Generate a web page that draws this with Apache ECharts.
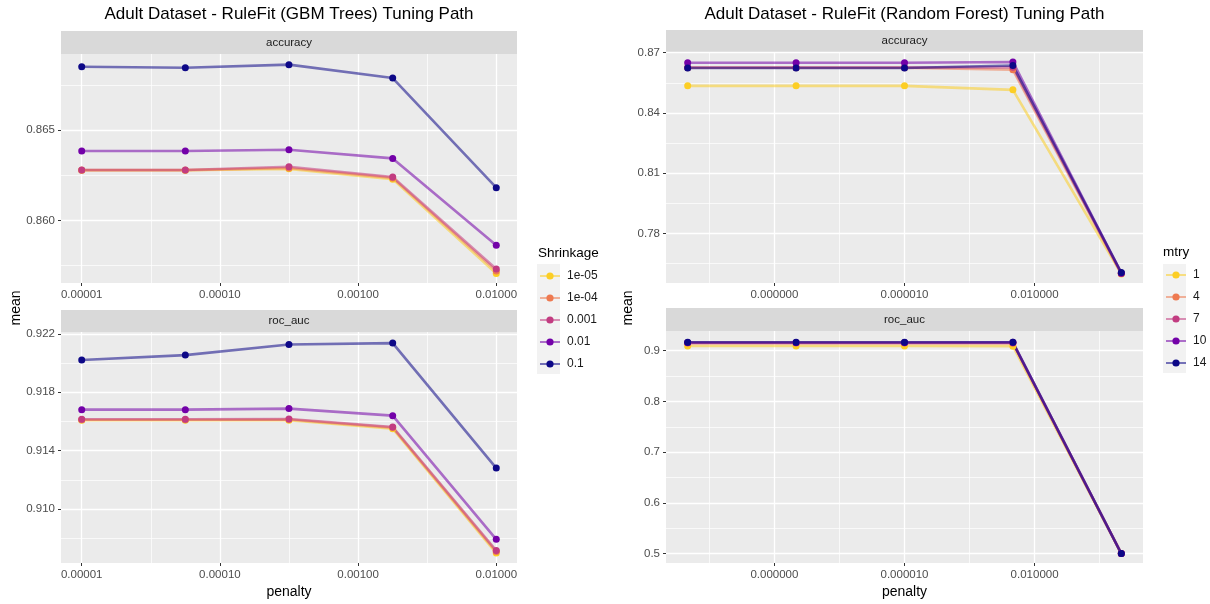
<!DOCTYPE html>
<html><head><meta charset="utf-8">
<script src="https://cdn.jsdelivr.net/npm/echarts@6/dist/echarts.min.js"></script>
<style>html,body{margin:0;padding:0;background:#fff}#c{width:1210px;height:604px}</style>
</head><body><div id="c"></div>
<script>
// ---------- data ----------
const shrinkage = ['1e-05', '1e-04', '0.001', '0.01', '0.1'];
const mtry = ['1', '4', '7', '10', '14'];
const gbmPenalty = [1e-5, 5.62e-5, 3.16e-4, 1.78e-3, 1e-2];
const rfPenalty = [1e-10, 3.16e-8, 1e-5, 3.16e-3, 1];

const gbmAcc_1e05 = [0.86277, 0.86277, 0.86285, 0.86228, 0.85705];
const gbmAcc_1e04 = [0.86278, 0.86278, 0.86290, 0.86235, 0.85720];
const gbmAcc_0001 = [0.86279, 0.86279, 0.86297, 0.86240, 0.85730];
const gbmAcc_001 = [0.86384, 0.86384, 0.86391, 0.86343, 0.85862];
const gbmAcc_01 = [0.86850, 0.86845, 0.86862, 0.86788, 0.86181];

const gbmRoc_1e05 = [0.91608, 0.91608, 0.91608, 0.91550, 0.90700];
const gbmRoc_1e04 = [0.91612, 0.91612, 0.91614, 0.91558, 0.90710];
const gbmRoc_0001 = [0.91615, 0.91615, 0.91617, 0.91562, 0.90717];
const gbmRoc_001 = [0.91681, 0.91681, 0.91688, 0.91640, 0.90794];
const gbmRoc_01 = [0.92020, 0.92054, 0.92127, 0.92136, 0.91281];

const rfAcc_1 = [0.8535, 0.8535, 0.8535, 0.8515, 0.7598];
const rfAcc_4 = [0.8625, 0.8625, 0.8625, 0.8615, 0.7600];
const rfAcc_7 = [0.8626, 0.8626, 0.8626, 0.8628, 0.7601];
const rfAcc_10 = [0.8650, 0.8650, 0.8650, 0.8654, 0.7602];
const rfAcc_14 = [0.8624, 0.8624, 0.8624, 0.8636, 0.7605];

const rfRoc_1 = [0.9093, 0.9093, 0.9093, 0.9090, 0.5000];
const rfRoc_4 = [0.9150, 0.9150, 0.9150, 0.9148, 0.5000];
const rfRoc_7 = [0.9155, 0.9155, 0.9155, 0.9155, 0.5000];
const rfRoc_10 = [0.9163, 0.9163, 0.9163, 0.9165, 0.5000];
const rfRoc_14 = [0.9166, 0.9166, 0.9166, 0.9166, 0.5000];

// ticks
const gbmXTicks = [1e-5, 1e-4, 1e-3, 1e-2];
const gbmXLabels = ['0.00001', '0.00010', '0.00100', '0.01000'];
const gbmXMinor = [-4.5, -3.5, -2.5];
const rfXTicks = [1e-8, 1e-5, 1e-2];
const rfXLabels = ['0.000000', '0.000010', '0.010000'];
const rfXMinor = [-9.5, -6.5, -3.5, -0.5];
const gbmAccYTicks = [0.860, 0.865];
const gbmAccYLabels = ['0.860', '0.865'];
const gbmAccYMinor = [0.8575, 0.8625, 0.8675];
const gbmRocYTicks = [0.910, 0.914, 0.918, 0.922];
const gbmRocYLabels = ['0.910', '0.914', '0.918', '0.922'];
const gbmRocYMinor = [0.908, 0.912, 0.916, 0.920];
const rfAccYTicks = [0.78, 0.81, 0.84, 0.87];
const rfAccYLabels = ['0.78', '0.81', '0.84', '0.87'];
const rfAccYMinor = [0.765, 0.795, 0.825, 0.855];
const rfRocYTicks = [0.5, 0.6, 0.7, 0.8, 0.9];
const rfRocYLabels = ['0.5', '0.6', '0.7', '0.8', '0.9'];
const rfRocYMinor = [0.55, 0.65, 0.75, 0.85];

const colors = ['#FCCE25', '#EE7A51', '#C23C81', '#7301A8', '#0D0887'];
const FONT = "'Liberation Sans', Arial, sans-serif";

// ---------- helpers ----------
const lg = Math.log10;
function lookup(ticks, labels) {
  return function (v) {
    for (let i = 0; i < ticks.length; i++) if (Math.abs(ticks[i] - v) < 1e-9) return labels[i];
    return '';
  };
}
const gridCfg = [
  { left: 61, top: 54, width: 456, height: 229 },
  { left: 61, top: 332, width: 456, height: 231 },
  { left: 666, top: 52, width: 477, height: 231 },
  { left: 666, top: 331, width: 477, height: 232 }
];
const xRanges = [[-5.15, -1.85], [-5.15, -1.85], [-10.5, 0.5], [-10.5, 0.5]];
const yRanges = [[0.85653, 0.86921], [0.90632, 0.92212], [0.7553, 0.87035], [0.4815, 0.9389]];
const xTickSets = [gbmXTicks, gbmXTicks, rfXTicks, rfXTicks];
const xLabelSets = [gbmXLabels, gbmXLabels, rfXLabels, rfXLabels];
const xMinorSets = [gbmXMinor, gbmXMinor, rfXMinor, rfXMinor];
const yTickSets = [gbmAccYTicks, gbmRocYTicks, rfAccYTicks, rfRocYTicks];
const yLabelSets = [gbmAccYLabels, gbmRocYLabels, rfAccYLabels, rfRocYLabels];
const yMinorSets = [gbmAccYMinor, gbmRocYMinor, rfAccYMinor, rfRocYMinor];

const grids = [], xAxes = [], yAxes = [];
const tickLabel = { color: '#4D4D4D', fontSize: 11.5, fontFamily: FONT };
const noLine = { show: false, onZero: false };
for (let g = 0; g < 4; g++) {
  grids.push(Object.assign({ show: true, backgroundColor: '#EBEBEB', borderWidth: 0, containLabel: false }, gridCfg[g]));
  const xmaj = xTickSets[g].map(lg);
  const xlabs = xLabelSets[g];
  xAxes.push({
    type: 'value', gridIndex: g, min: xRanges[g][0], max: xRanges[g][1], position: 'bottom',
    axisLine: noLine, axisLabel: { show: false, customValues: xMinorSets[g] },
    axisTick: { show: false, customValues: xMinorSets[g] },
    splitLine: { show: true, lineStyle: { color: '#FFFFFF', width: 0.7 } }
  });
  xAxes.push({
    type: 'value', gridIndex: g, min: xRanges[g][0], max: xRanges[g][1], position: 'bottom',
    axisLine: noLine,
    axisTick: { show: true, length: 3, lineStyle: { color: '#333333', width: 1 }, customValues: xmaj },
    axisLabel: Object.assign({ customValues: xmaj, margin: 6, formatter: function (v) {
      for (let i = 0; i < xmaj.length; i++) if (Math.abs(xmaj[i] - v) < 1e-9) return xlabs[i];
      return '';
    } }, tickLabel),
    splitLine: { show: true, lineStyle: { color: '#FFFFFF', width: 1.3 } }
  });
  yAxes.push({
    type: 'value', gridIndex: g, min: yRanges[g][0], max: yRanges[g][1], position: 'left',
    axisLine: noLine, axisLabel: { show: false, customValues: yMinorSets[g] },
    axisTick: { show: false, customValues: yMinorSets[g] },
    splitLine: { show: true, lineStyle: { color: '#FFFFFF', width: 0.7 } }
  });
  yAxes.push({
    type: 'value', gridIndex: g, min: yRanges[g][0], max: yRanges[g][1], position: 'left',
    axisLine: noLine,
    axisTick: { show: true, length: 3, lineStyle: { color: '#333333', width: 1 }, customValues: yTickSets[g] },
    axisLabel: Object.assign({ customValues: yTickSets[g], margin: 6, formatter: lookup(yTickSets[g], yLabelSets[g]) }, tickLabel),
    splitLine: { show: true, lineStyle: { color: '#FFFFFF', width: 1.3 } }
  });
}

const panelSeries = [
  { g: 0, names: shrinkage, x: gbmPenalty, ys: [gbmAcc_1e05, gbmAcc_1e04, gbmAcc_0001, gbmAcc_001, gbmAcc_01] },
  { g: 1, names: shrinkage, x: gbmPenalty, ys: [gbmRoc_1e05, gbmRoc_1e04, gbmRoc_0001, gbmRoc_001, gbmRoc_01] },
  { g: 2, names: mtry, x: rfPenalty, ys: [rfAcc_1, rfAcc_4, rfAcc_7, rfAcc_10, rfAcc_14] },
  { g: 3, names: mtry, x: rfPenalty, ys: [rfRoc_1, rfRoc_4, rfRoc_7, rfRoc_10, rfRoc_14] }
];
const series = [];
panelSeries.forEach(function (p) {
  p.ys.forEach(function (ys, i) {
    series.push({
      type: 'line', name: p.names[i], xAxisIndex: 2 * p.g + 1, yAxisIndex: 2 * p.g + 1,
      data: ys.map(function (v, k) { return [lg(p.x[k]), v]; }),
      symbol: 'circle', symbolSize: 7, showSymbol: true, animation: false,
      lineStyle: { color: colors[i], width: 2.6, opacity: 0.55 },
      itemStyle: { color: colors[i], opacity: 1 },
      emphasis: { disabled: true }, silent: true
    });
  });
});

function strip(x, y, w, h, label) {
  return [
    { type: 'rect', shape: { x: x, y: y, width: w, height: h }, style: { fill: '#D9D9D9' }, silent: true },
    { type: 'text', x: x + w / 2, y: y + h / 2, style: { text: label, fill: '#1A1A1A', font: '11.5px ' + FONT, align: 'center', verticalAlign: 'middle', textAlign: 'center', textVerticalAlign: 'middle' }, silent: true }
  ];
}
function txt(x, y, s, size, extra) {
  return Object.assign({ type: 'text', x: x, y: y, silent: true,
    style: { text: s, fill: '#000000', font: size + 'px ' + FONT, align: 'center', verticalAlign: 'middle', textAlign: 'center', textVerticalAlign: 'middle' } }, extra || {});
}
const graphics = [].concat(
  strip(61, 31, 456, 23, 'accuracy'),
  strip(61, 310, 456, 22, 'roc_auc'),
  strip(666, 30, 477, 22, 'accuracy'),
  strip(666, 308, 477, 23, 'roc_auc'),
  [
    txt(289, 14, 'Adult Dataset - RuleFit (GBM Trees) Tuning Path', 17),
    txt(904.5, 14, 'Adult Dataset - RuleFit (Random Forest) Tuning Path', 17),
    txt(289, 592, 'penalty', 14),
    txt(904.5, 592, 'penalty', 14),
    txt(16, 308, 'mean', 14, { rotation: Math.PI / 2 }),
    txt(628, 308, 'mean', 14, { rotation: Math.PI / 2 }),
    { type: 'rect', shape: { x: 537, y: 264, width: 23, height: 110 }, style: { fill: '#F2F2F2' }, silent: true, z: -1 },
    { type: 'rect', shape: { x: 1163, y: 264, width: 23, height: 109 }, style: { fill: '#F2F2F2' }, silent: true, z: -1 },
    { type: 'text', x: 538, y: 253, silent: true, style: { text: 'Shrinkage', fill: '#000', font: '13.5px ' + FONT, align: 'left', verticalAlign: 'middle', textAlign: 'left', textVerticalAlign: 'middle' } },
    { type: 'text', x: 1163, y: 252, silent: true, style: { text: 'mtry', fill: '#000', font: '13.5px ' + FONT, align: 'left', verticalAlign: 'middle', textAlign: 'left', textVerticalAlign: 'middle' } }
  ]
);

const legendCommon = {
  orient: 'vertical', itemWidth: 20, itemHeight: 9, itemGap: 8, padding: 0,
  selectedMode: false,
  textStyle: { fontSize: 12, color: '#1A1A1A', fontFamily: FONT, lineHeight: 14, padding: [0, 0, 0, 2] }
};
const option = {
  backgroundColor: '#FFFFFF',
  animation: false,
  grid: grids, xAxis: xAxes, yAxis: yAxes, series: series,
  legend: [
    Object.assign({ data: shrinkage, left: 539, top: 269 }, legendCommon),
    Object.assign({ data: mtry, left: 1165, top: 268 }, legendCommon)
  ],
  graphic: { elements: graphics }
};
const chart = echarts.init(document.getElementById('c'));
chart.setOption(option);
</script>
</body></html>
